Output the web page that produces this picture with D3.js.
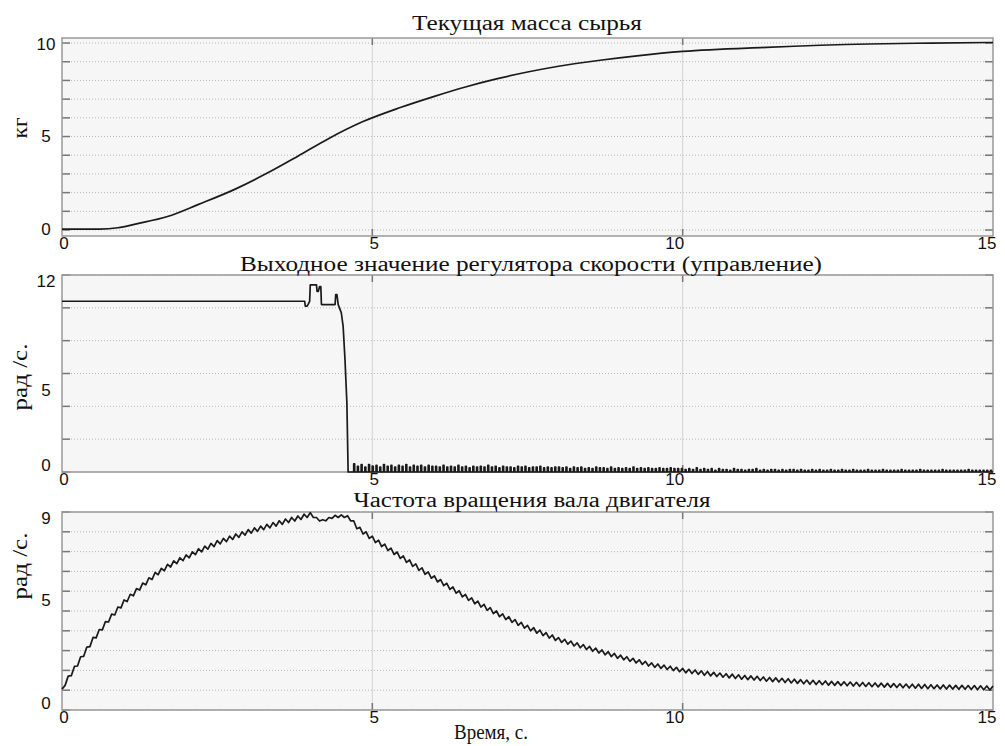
<!DOCTYPE html>
<html>
<head>
<meta charset="utf-8">
<script src="https://cdn.jsdelivr.net/npm/d3@7"></script>
<style>
body { margin: 0; background: #fff; }
text { fill: #111; }
.title { font-family: "Liberation Serif", "Times New Roman", serif; font-size: 20px; }
.ylab { font-family: "Liberation Serif", "Times New Roman", serif; font-size: 21px; }
.tick-label { font-family: "Liberation Sans", Arial, sans-serif; font-size: 17px; }
</style>
</head>
<body>
<svg id="chart" width="1005" height="746"></svg>
<script>
// x axis (time, s)
var timeTicks = [0, 5, 10, 15];

// panel 1: mass of raw material, kg
var massT = [0, 0.6, 0.9, 1.2, 1.7, 2.2, 2.8, 3.3, 3.8, 4.3, 4.85, 5.45, 6.0, 6.5, 7.0, 7.5, 8.0, 8.67, 9.3, 10.0, 11.35, 13.0, 14.0, 15.0];
var massV = [0.05, 0.05, 0.12, 0.33, 0.72, 1.37, 2.2, 3.03, 3.95, 4.9, 5.8, 6.55, 7.15, 7.65, 8.08, 8.45, 8.76, 9.08, 9.33, 9.55, 9.77, 9.95, 10.0, 10.03];

// panel 2: speed controller output
var controlT = [0, 3.91, 3.92, 3.95, 3.99, 4.00, 4.10, 4.11, 4.13, 4.15, 4.17, 4.18, 4.40, 4.41, 4.43, 4.45, 4.47, 4.50, 4.53, 4.56, 4.59, 4.61];
var controlV = [10.4, 10.4, 10.1, 10.1, 10.4, 11.4, 11.4, 11.0, 11.0, 11.3, 11.3, 10.2, 10.2, 10.8, 10.8, 10.2, 10.0, 9.7, 8.85, 6.8, 4.2, 0];
// small pulses after the drop, one every spikeStep seconds from spikeStart
var spikeStart = 4.7;
var spikeStep = 0.06;
var spikeH = [
  0.5,0.35,0.45,0.3,0.45,0.35,0.4,0.3,0.45,0.35,0.4,0.3,0.4,0.35,0.45,0.3,0.4,0.35,0.4,0.3,0.4,0.35,
  0.35,0.3,0.4,0.3,0.35,0.3,0.4,0.3,0.35,0.25,0.35,0.3,0.35,0.3,0.4,0.3,0.35,0.25,0.35,0.3,0.3,0.25,0.35,0.3,0.35,0.25,0.3,0.3,0.35,0.25,0.3,0.25,0.3,
  0.3,0.25,0.3,0.2,0.3,0.25,0.3,0.2,0.25,0.2,0.3,0.25,0.25,0.2,0.3,0.2,0.25,0.2,0.25,0.2,0.3,0.2,0.25,0.2,0.25,0.2,0.2,0.25,0.2,0.2,0.25,0.2,0.2,
  0.2,0.15,0.2,0.15,0.25,0.15,0.2,0.15,0.2,0.1,0.2,0.15,0.15,0.1,0.2,0.15,0.15,0.1,0.15,0.15,0.2,0.1,0.15,0.1,0.15,0.15,0.1,0.15,0.1,0.15,
  0.15,0.1,0.15,0.1,0.1,0.15,0.1,0.15,0.1,0.1,0.15,0.1,0.1,0.15,0.1,0.1,0.15,0.1,0.1,0.1,0.15,0.1,0.1,0.1,0.15,0.1,0.1,0.1,0.1,0.15,
  0.1,0.1,0.1,0.1,0.15,0.1,0.1,0.1,0.1,0.1,0.15,0.1,0.1,0.1,0.1,0.1,0.1,0.15,0.1,0.1,0.1,0.1,0.1,0.1
];

// panel 3: motor shaft speed, sampled every speedStep seconds
var speedStep = 0.05;
var speedV = [
  0.95,1.12,1.54,1.56,1.98,2.00,2.42,2.44,2.86,2.88,3.30,3.28,3.66,3.64,4.02,4.00,4.36,4.32,4.68,4.64,
  5.00,4.93,5.26,5.19,5.52,5.45,5.77,5.69,6.01,5.93,6.25,6.15,6.44,6.33,6.62,6.50,6.78,6.65,6.92,6.79,
  7.05,6.92,7.19,7.06,7.33,7.19,7.45,7.31,7.57,7.43,7.70,7.55,7.80,7.65,7.90,7.75,8.00,7.85,8.10,7.95,
  8.20,8.04,8.28,8.12,8.36,8.20,8.44,8.28,8.52,8.36,8.60,8.44,8.68,8.52,8.75,8.59,8.82,8.66,8.90,8.75,
  8.97,8.75,8.75,8.59,8.65,8.60,8.75,8.71,8.85,8.75,8.87,8.75,8.83,8.60,8.60,8.24,8.30,8.00,8.10,7.80,
  7.90,7.61,7.72,7.43,7.54,7.25,7.36,7.07,7.18,6.89,7.00,6.71,6.82,6.53,6.64,6.35,6.46,6.17,6.28,5.99,
  6.10,5.82,5.93,5.65,5.76,5.48,5.59,5.31,5.42,5.14,5.25,4.98,5.10,4.83,4.95,4.68,4.80,4.53,4.65,4.38,
  4.50,4.24,4.37,4.11,4.24,3.98,4.11,3.85,3.98,3.72,3.85,3.60,3.74,3.49,3.63,3.38,3.52,3.27,3.41,3.16,
  3.29,3.07,3.21,2.99,3.13,2.91,3.05,2.83,2.97,2.75,2.89,2.67,2.81,2.59,2.73,2.51,2.65,2.43,2.57,2.35,
  2.49,2.28,2.42,2.21,2.35,2.14,2.28,2.07,2.21,2.00,2.14,1.94,2.09,1.89,2.04,1.84,1.99,1.79,1.94,1.74,
  1.89,1.69,1.85,1.66,1.82,1.62,1.78,1.58,1.75,1.55,1.71,1.52,1.68,1.49,1.65,1.46,1.63,1.43,1.60,1.40,
  1.57,1.38,1.55,1.36,1.53,1.34,1.50,1.31,1.48,1.29,1.46,1.27,1.44,1.25,1.42,1.23,1.40,1.21,1.38,1.19,
  1.36,1.17,1.35,1.16,1.33,1.15,1.32,1.13,1.30,1.12,1.29,1.11,1.28,1.10,1.27,1.09,1.26,1.08,1.25,1.07,
  1.24,1.06,1.23,1.05,1.22,1.04,1.21,1.03,1.20,1.02,1.19,1.01,1.18,1.00,1.17,0.99,1.17,0.98,1.16,0.97,
  1.15,0.97,1.14,0.96,1.14,0.95,1.13,0.95,1.12,0.94,1.12,0.94,1.11,0.93,1.11,0.92,1.10,0.92,1.09,0.91,
  1.09
];

// build point lists for the three lines
var massPts = massT.map(function(t, i){ return [t, massV[i]]; });

var controlPts = controlT.map(function(t, i){ return [t, controlV[i]]; });
spikeH.forEach(function(h, i){
  var t = spikeStart + i * spikeStep;
  if (t > 14.99) return;
  controlPts.push([t, 0], [t, h], [t + 0.015, h], [t + 0.015, 0]);
});
controlPts.push([15, 0]);

var speedPts = speedV.map(function(v, i){ return [i * speedStep, v]; });

var left = 62, right = 993;
var panels = [
  {title: "Текущая масса сырья", titleX: 527, titleY: 30, titleLen: 230,
   ylabel: "кг", ylabY: 128, ylabLen: 21,
   top: 38, bottom: 236, domain: [-0.32, 10.27], grid: d3.range(0, 10.5, 1),
   yTicks: [0, 5, 10], pts: massPts, curve: d3.curveMonotoneX},
  {title: "Выходное значение регулятора скорости (управление)", titleX: 531, titleY: 271, titleLen: 582,
   ylabel: "рад /с.", ylabY: 377, ylabLen: 67,
   top: 275, bottom: 472, domain: [0, 12], grid: d3.range(0, 12.5, 2),
   yTicks: [0, 5, 12], pts: controlPts, curve: d3.curveLinear},
  {title: "Частота вращения вала двигателя", titleX: 532, titleY: 507, titleLen: 357,
   ylabel: "рад /с.", ylabY: 566, ylabLen: 67,
   top: 512, bottom: 710, domain: [0, 9], grid: d3.range(0, 9.01, 0.9),
   yTicks: [0, 5, 9], pts: speedPts, curve: d3.curveLinear}
];

var svg = d3.select("#chart");
var x = d3.scaleLinear().domain([0, 15]).range([left, right]);

panels.forEach(function(p){
  var y = d3.scaleLinear().domain(p.domain).range([p.bottom, p.top]);
  var g = svg.append("g");

  g.append("rect").attr("x", left).attr("y", p.top)
    .attr("width", right - left).attr("height", p.bottom - p.top)
    .attr("fill", "#f6f6f6");

  // dotted horizontal grid
  g.selectAll(".hgrid").data(p.grid).enter().append("line")
    .attr("x1", left).attr("x2", right)
    .attr("y1", function(d){ return y(d); }).attr("y2", function(d){ return y(d); })
    .attr("stroke", "#b8b8b8").attr("stroke-width", 1).attr("stroke-dasharray", "1,2");

  // tick marks on both sides
  g.selectAll(".ltick").data(p.grid).enter().append("line")
    .attr("x1", left).attr("x2", left + 8)
    .attr("y1", function(d){ return y(d); }).attr("y2", function(d){ return y(d); })
    .attr("stroke", "#777").attr("stroke-width", 1.5);
  g.selectAll(".rtick").data(p.grid).enter().append("line")
    .attr("x1", right - 8).attr("x2", right)
    .attr("y1", function(d){ return y(d); }).attr("y2", function(d){ return y(d); })
    .attr("stroke", "#777").attr("stroke-width", 1.5);

  // vertical grid at 5 and 10
  var inner = timeTicks.slice(1, 3);
  g.selectAll(".vgrid").data(inner).enter().append("line")
    .attr("x1", function(d){ return x(d); }).attr("x2", function(d){ return x(d); })
    .attr("y1", p.top).attr("y2", p.bottom)
    .attr("stroke", "#d4d4d4").attr("stroke-width", 1);
  g.selectAll(".vtickb").data(inner).enter().append("line")
    .attr("x1", function(d){ return x(d); }).attr("x2", function(d){ return x(d); })
    .attr("y1", p.bottom - 7).attr("y2", p.bottom)
    .attr("stroke", "#777").attr("stroke-width", 1.5);
  g.selectAll(".vtickt").data(inner).enter().append("line")
    .attr("x1", function(d){ return x(d); }).attr("x2", function(d){ return x(d); })
    .attr("y1", p.top).attr("y2", p.top + 7)
    .attr("stroke", "#777").attr("stroke-width", 1.5);

  // frame
  g.append("rect").attr("x", left).attr("y", p.top)
    .attr("width", right - left).attr("height", p.bottom - p.top)
    .attr("fill", "none").attr("stroke", "#999").attr("stroke-width", 1.5);

  // data line
  var line = d3.line()
    .x(function(d){ return x(d[0]); })
    .y(function(d){ return y(d[1]); })
    .curve(p.curve);
  g.append("path").datum(p.pts).attr("d", line)
    .attr("fill", "none").attr("stroke", "#1a1a1a").attr("stroke-width", 1.7)
    .attr("stroke-linejoin", "round");

  // y tick labels, kept inside the frame like the original
  g.selectAll(".ylabel").data(p.yTicks).enter().append("text")
    .attr("class", "tick-label")
    .attr("x", 46)
    .attr("y", function(d){ return Math.max(p.top + 6, Math.min(p.bottom - 7, y(d))); })
    .attr("dy", "0.35em")
    .attr("text-anchor", "middle")
    .text(function(d){ return d; });

  // x tick labels
  g.selectAll(".xlabel").data(timeTicks).enter().append("text")
    .attr("class", "tick-label")
    .attr("x", function(d){
      if (d === 15) return x(d) - 6;
      if (d === 10) return x(d) - 8;
      return x(d) + 2;
    })
    .attr("y", p.bottom + 13)
    .attr("text-anchor", "middle")
    .text(function(d){ return d; });

  g.append("text").attr("class", "title")
    .attr("x", p.titleX).attr("y", p.titleY)
    .attr("text-anchor", "middle")
    .attr("textLength", p.titleLen).attr("lengthAdjust", "spacingAndGlyphs")
    .text(p.title);

  g.append("text").attr("class", "ylab")
    .attr("transform", "translate(27," + p.ylabY + ")rotate(-90)")
    .attr("text-anchor", "middle")
    .attr("textLength", p.ylabLen).attr("lengthAdjust", "spacingAndGlyphs")
    .text(p.ylabel);
});

svg.append("text").attr("class", "title")
  .attr("x", 491).attr("y", 739)
  .attr("text-anchor", "middle")
  .attr("textLength", 74).attr("lengthAdjust", "spacingAndGlyphs")
  .text("Время, с.");
</script>
</body>
</html>
